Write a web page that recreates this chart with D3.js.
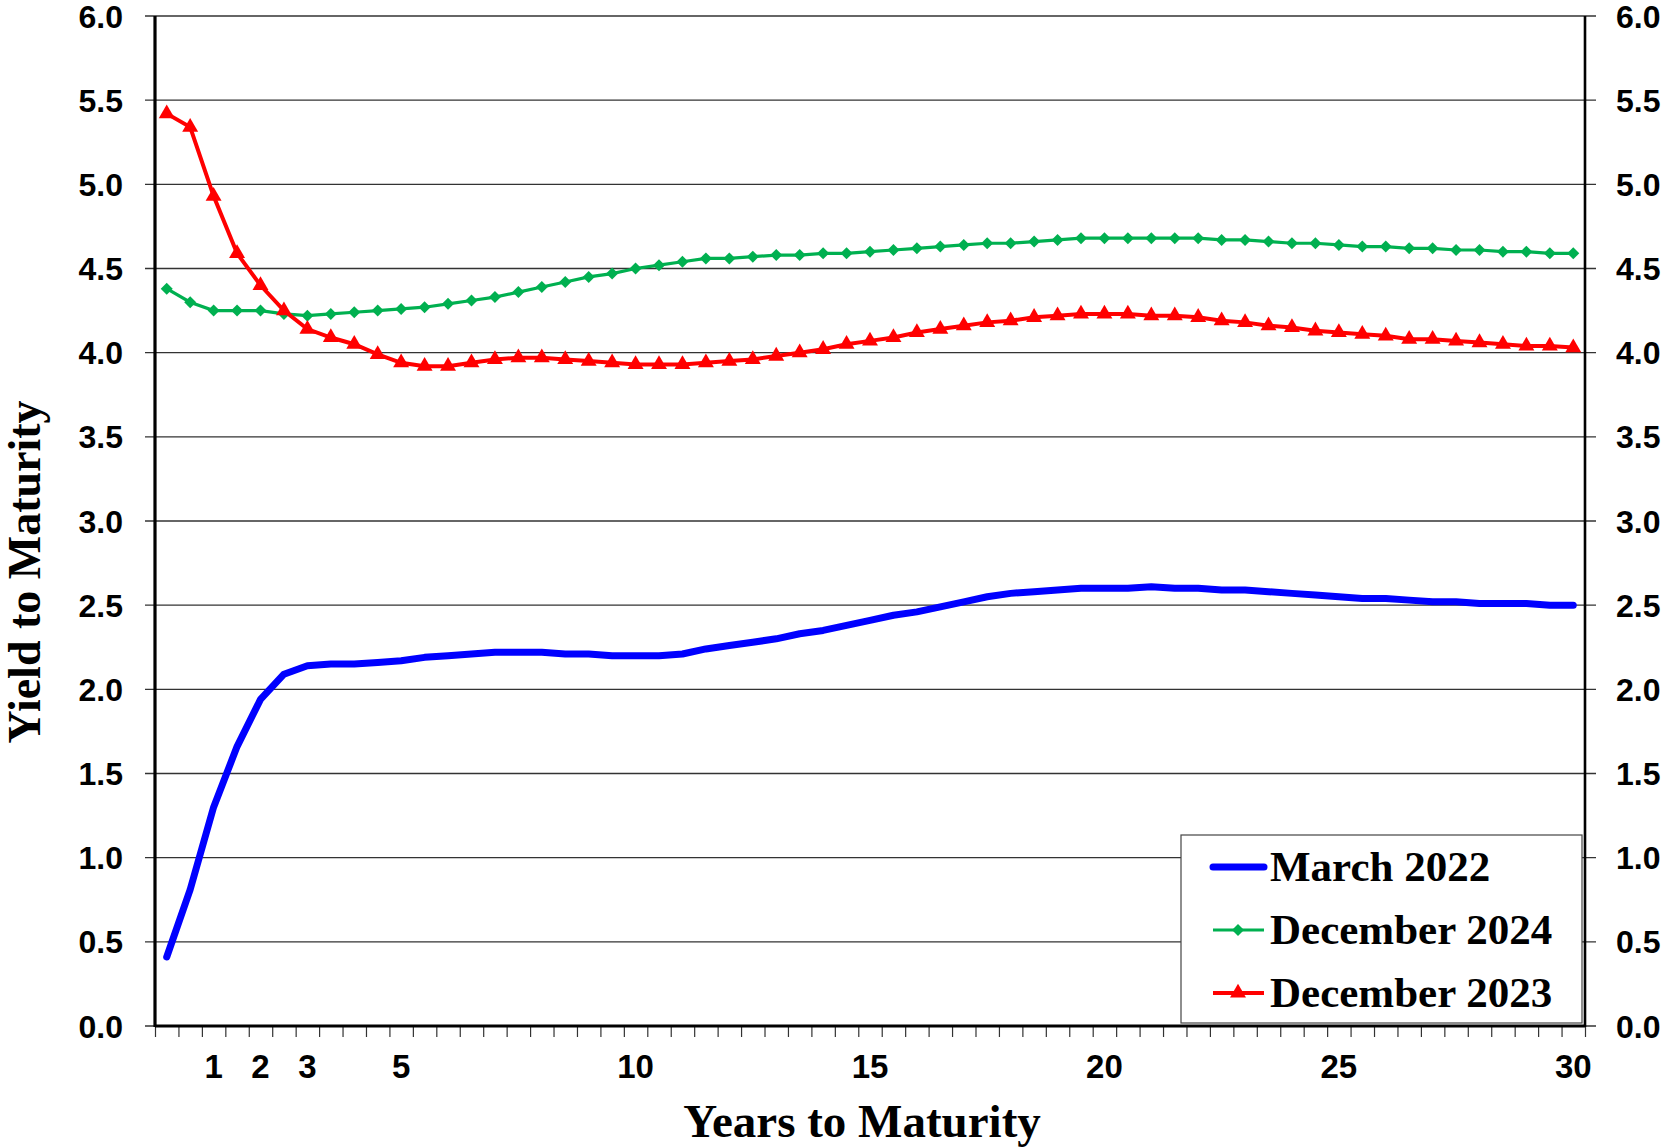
<!DOCTYPE html>
<html lang="en">
    <head>
        <meta charset="utf-8">
        <title>Yield Curves</title>
        <script type="text/javascript" src="https://d3js.org/d3.v7.min.js"></script>
        <style type="text/css">
            body {
                margin: 0;
                background: #fff;
            }
            /* tick labels */
            .tick-label {
                font-family: "Liberation Sans", Arial, sans-serif;
                font-weight: bold;
                fill: #000;
            }
            /* axis titles and legend */
            .title, .legend-text {
                font-family: "Liberation Serif", "Times New Roman", serif;
                font-weight: bold;
                fill: #000;
            }
        </style>
    </head>

    <body>
        <script type="text/javascript">

            // chart size
            const svgW = 1669;
            const svgH = 1148;

            // maturities in years (category axis)
            const maturities = [0.25, 0.5, 1, 1.5, 2, 2.5, 3, 3.5, 4, 4.5, 5, 5.5, 6, 6.5, 7, 7.5, 8, 8.5, 9, 9.5,
                10, 10.5, 11, 11.5, 12, 12.5, 13, 13.5, 14, 14.5, 15, 15.5, 16, 16.5, 17, 17.5, 18, 18.5, 19, 19.5,
                20, 20.5, 21, 21.5, 22, 22.5, 23, 23.5, 24, 24.5, 25, 25.5, 26, 26.5, 27, 27.5, 28, 28.5, 29, 29.5, 30];

            // yields
            const march2022 = [0.41, 0.81, 1.30, 1.66, 1.94, 2.09, 2.14, 2.15, 2.15, 2.16, 2.17, 2.19, 2.20, 2.21, 2.22, 2.22,
                2.22, 2.21, 2.21, 2.20, 2.20,
                2.20, 2.21, 2.24, 2.26, 2.28, 2.30, 2.33, 2.35, 2.38, 2.41, 2.44, 2.46, 2.49, 2.52, 2.55, 2.57, 2.58, 2.59, 2.60, 2.60,
                2.60, 2.61, 2.60, 2.60, 2.59, 2.59, 2.58, 2.57, 2.56, 2.55, 2.54, 2.54, 2.53, 2.52, 2.52, 2.51, 2.51, 2.51, 2.50, 2.50];

            const dec2024 = [4.38, 4.30, 4.25, 4.25, 4.25, 4.23, 4.22, 4.23, 4.24, 4.25, 4.26, 4.27, 4.29, 4.31, 4.33, 4.36,
                4.39, 4.42, 4.45, 4.47, 4.50,
                4.52, 4.54, 4.56, 4.56, 4.57, 4.58, 4.58, 4.59, 4.59, 4.60, 4.61, 4.62, 4.63, 4.64, 4.65, 4.65, 4.66, 4.67, 4.68, 4.68,
                4.68, 4.68, 4.68, 4.68, 4.67, 4.67, 4.66, 4.65, 4.65, 4.64, 4.63, 4.63, 4.62, 4.62, 4.61, 4.61, 4.60, 4.60, 4.59, 4.59];

            const dec2023 = [5.42, 5.34, 4.93, 4.59, 4.40, 4.25, 4.14, 4.09, 4.05, 3.99, 3.94, 3.92, 3.92, 3.94, 3.96, 3.97,
                3.97, 3.96, 3.95, 3.94, 3.93,
                3.93, 3.93, 3.94, 3.95, 3.96, 3.98, 4.00, 4.02, 4.05, 4.07, 4.09, 4.12, 4.14, 4.16, 4.18, 4.19, 4.21, 4.22, 4.23, 4.23,
                4.23, 4.22, 4.22, 4.21, 4.19, 4.18, 4.16, 4.15, 4.13, 4.12, 4.11, 4.10, 4.08, 4.08, 4.07, 4.06, 4.05, 4.04, 4.04, 4.03];

            // tick labels
            const xTickLabels = [1, 2, 3, 5, 10, 15, 20, 25, 30];
            const yTicks = [0, 0.5, 1, 1.5, 2, 2.5, 3, 3.5, 4, 4.5, 5, 5.5, 6];

            // series for legend + drawing
            const seriesNames = ["March 2022", "December 2024", "December 2023"];

            // plot area
            const plotL = 155, plotR = 1585, plotT = 16, plotB = 1026;

            // scales
            const xScale = d3.scaleBand()
                .domain(maturities)
                .range([plotL, plotR]);
            // index scale, for the ticks between categories
            const xIdx = d3.scaleLinear()
                .domain([0, maturities.length])
                .range([plotL, plotR]);
            const yScale = d3.scaleLinear()
                .domain([0, 6])
                .range([plotB, plotT]);

            const cx = d => xScale(d) + xScale.bandwidth() / 2;

            const svg = d3.select("body")
                .append("svg")
                .attr("width", svgW)
                .attr("height", svgH);

            // horizontal gridlines (run out past both axes like excel ticks)
            svg.append("g")
                .selectAll("line")
                .data(yTicks)
                .enter()
                .append("line")
                .attr("x1", plotL - 10)
                .attr("x2", plotR + 11)
                .attr("y1", d => yScale(d))
                .attr("y2", d => yScale(d))
                .attr("stroke", "#333")
                .attr("stroke-width", 1.3);

            // small x ticks between categories
            const bottomAxis = d3.axisBottom(xIdx)
                .tickValues(d3.range(maturities.length + 1))
                .tickFormat("")
                .tickSizeOuter(0)
                .tickSizeInner(11);
            const xg = svg.append("g")
                .attr("transform", "translate(0," + plotB + ")")
                .call(bottomAxis);
            xg.select(".domain").remove();
            xg.selectAll(".tick line").attr("stroke", "#333").attr("stroke-width", 1.2);

            // x tick labels
            svg.append("g")
                .selectAll("text")
                .data(xTickLabels)
                .enter()
                .append("text")
                .attr("class", "tick-label")
                .attr("x", d => cx(d))
                .attr("y", 1078)
                .attr("text-anchor", "middle")
                .attr("font-size", 33)
                .text(d => d);

            // left y labels
            svg.append("g")
                .selectAll("text")
                .data(yTicks)
                .enter()
                .append("text")
                .attr("class", "tick-label")
                .attr("x", 123)
                .attr("y", d => yScale(d))
                .attr("dy", "0.36em")
                .attr("text-anchor", "end")
                .attr("font-size", 32)
                .text(d => d.toFixed(1));

            // right y labels
            svg.append("g")
                .selectAll("text")
                .data(yTicks)
                .enter()
                .append("text")
                .attr("class", "tick-label")
                .attr("x", 1616)
                .attr("y", d => yScale(d))
                .attr("dy", "0.36em")
                .attr("text-anchor", "start")
                .attr("font-size", 32)
                .text(d => d.toFixed(1));

            // axis lines
            svg.append("line")
                .attr("x1", plotL).attr("x2", plotL)
                .attr("y1", plotT).attr("y2", plotB + 1)
                .attr("stroke", "#000").attr("stroke-width", 3.2);
            svg.append("line")
                .attr("x1", plotR).attr("x2", plotR)
                .attr("y1", plotT).attr("y2", plotB + 1)
                .attr("stroke", "#000").attr("stroke-width", 2.6);
            svg.append("line")
                .attr("x1", plotL).attr("x2", plotR)
                .attr("y1", plotB).attr("y2", plotB)
                .attr("stroke", "#000").attr("stroke-width", 3);

            // line generator
            const line = d3.line()
                .x((d, i) => cx(maturities[i]))
                .y(d => yScale(d));

            // March 2022 - thick blue line, no markers
            svg.append("path")
                .datum(march2022)
                .attr("d", line)
                .attr("fill", "none")
                .attr("stroke", "#0000FF")
                .attr("stroke-width", 7)
                .attr("stroke-linejoin", "round")
                .attr("stroke-linecap", "round");

            // December 2024 - green with diamonds
            svg.append("path")
                .datum(dec2024)
                .attr("d", line)
                .attr("fill", "none")
                .attr("stroke", "#00B050")
                .attr("stroke-width", 3.2);
            const diamond = d3.symbol().type(d3.symbolSquare).size(72);
            svg.append("g")
                .selectAll("path")
                .data(dec2024)
                .enter()
                .append("path")
                .attr("d", diamond)
                .attr("transform", (d, i) => "translate(" + cx(maturities[i]) + "," + yScale(d) + ") rotate(45)")
                .attr("fill", "#00B050");

            // December 2023 - red with triangles
            svg.append("path")
                .datum(dec2023)
                .attr("d", line)
                .attr("fill", "none")
                .attr("stroke", "#FF0000")
                .attr("stroke-width", 4);
            const triangle = d3.symbol().type(d3.symbolTriangle).size(110);
            svg.append("g")
                .selectAll("path")
                .data(dec2023)
                .enter()
                .append("path")
                .attr("d", triangle)
                .attr("transform", (d, i) => "translate(" + cx(maturities[i]) + "," + yScale(d) + ")")
                .attr("fill", "#FF0000");

            // axis titles
            svg.append("text")
                .attr("class", "title")
                .attr("text-anchor", "middle")
                .attr("x", 862)
                .attr("y", 1137)
                .attr("font-size", 47)
                .text("Years to Maturity");
            svg.append("text")
                .attr("class", "title")
                .attr("text-anchor", "middle")
                .attr("transform", "translate(40,572) rotate(-90)")
                .attr("font-size", 46)
                .text("Yield to Maturity");

            // legend
            const lg = svg.append("g");
            lg.append("rect")
                .attr("x", 1181)
                .attr("y", 835)
                .attr("width", 401)
                .attr("height", 188)
                .attr("fill", "#fff")
                .attr("stroke", "#444")
                .attr("stroke-width", 1.2);

            const rowY = [867, 930, 993];
            const colors = ["#0000FF", "#00B050", "#FF0000"];
            const widths = [7, 3, 4];
            lg.selectAll(".legend-line")
                .data(seriesNames)
                .enter()
                .append("line")
                .attr("x1", 1213)
                .attr("x2", 1264)
                .attr("y1", (d, i) => rowY[i])
                .attr("y2", (d, i) => rowY[i])
                .attr("stroke", (d, i) => colors[i])
                .attr("stroke-width", (d, i) => widths[i])
                .attr("stroke-linecap", (d, i) => i === 0 ? "round" : "butt");
            lg.append("path")
                .attr("d", diamond)
                .attr("transform", "translate(1238," + rowY[1] + ") rotate(45)")
                .attr("fill", "#00B050");
            lg.append("path")
                .attr("d", triangle)
                .attr("transform", "translate(1238," + rowY[2] + ")")
                .attr("fill", "#FF0000");
            lg.selectAll(".legend-text")
                .data(seriesNames)
                .enter()
                .append("text")
                .attr("class", "legend-text")
                .attr("x", 1270)
                .attr("y", (d, i) => rowY[i] + 14)
                .attr("font-size", 43)
                .text(d => d);

        </script>
    </body>
</html>
